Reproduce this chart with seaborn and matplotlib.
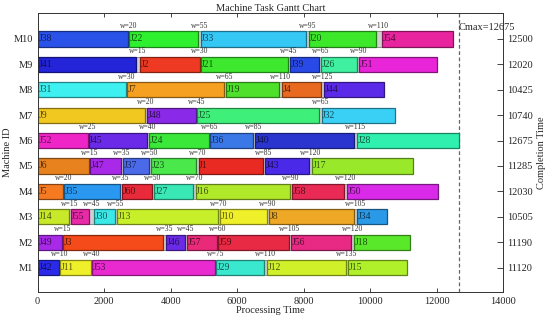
import numpy as np
import pandas as pd
import matplotlib
matplotlib.use("Agg")
import matplotlib.pyplot as plt
import matplotlib.colors as mcolors
import seaborn as sns

# Machines (bottom to top) and their completion times
machine_names = ["M1", "M2", "M3", "M4", "M5", "M6", "M7", "M8", "M9", "M10"]
completion_times = [11120, 11190, 10505, 12030, 11285, 12675, 10740, 10425, 12020, 12500]
CMAX = 12675

# Tasks, machine by machine
task_machine = (["M1"] * 6 + ["M2"] * 7 + ["M3"] * 7 + ["M4"] * 7 + ["M5"] * 7
                + ["M6"] * 6 + ["M7"] * 4 + ["M8"] * 5 + ["M9"] * 6 + ["M10"] * 5)
task_job = ["J42", "J11", "J53", "J29", "J12", "J15",
            "J49", "J3", "J46", "J57", "J59", "J56", "J18",
            "J14", "J55", "J30", "J13", "J10", "J8", "J34",
            "J5", "J35", "J60", "J27", "J16", "J58", "J50",
            "J6", "J47", "J37", "J23", "J1", "J43", "J17",
            "J52", "J45", "J24", "J36", "J40", "J28",
            "J9", "J48", "J25", "J32",
            "J31", "J7", "J19", "J4", "J44",
            "J41", "J2", "J21", "J39", "J26", "J51",
            "J38", "J22", "J33", "J20", "J54"]
task_start = [0, 670, 1640, 5380, 6900, 9340,
              0, 760, 3850, 4500, 5440, 7630, 9530,
              0, 990, 1690, 2380, 5480, 6960, 9610,
              0, 790, 2530, 3490, 4750, 7660, 9310,
              0, 1570, 2560, 3400, 4840, 6850, 8260,
              0, 1530, 3340, 5190, 6550, 9610,
              0, 3280, 4790, 8540,
              0, 2700, 5660, 7350, 8620,
              0, 3070, 4900, 7580, 8530, 9680,
              0, 2750, 4900, 8150, 10350]
task_end = [650, 1590, 5350, 6820, 9270, 11120,
            740, 3770, 4420, 5390, 7550, 9440, 11190,
            950, 1540, 2320, 5420, 6890, 9520, 10505,
            770, 2490, 3440, 4670, 7590, 9220, 12030,
            1550, 2520, 3340, 4770, 6770, 8150, 11285,
            1500, 3300, 5150, 6470, 9520, 12675,
            3240, 4750, 8470, 10740,
            2650, 5620, 7270, 8520, 10425,
            2970, 4870, 7520, 8470, 9620, 12020,
            2720, 4820, 8070, 10170, 12500]
task_color = ["#2a2ae8", "#f0f02a", "#e82ad0", "#3ae8d0", "#d0f02a", "#b0f02a",
              "#a82ae8", "#f54a1a", "#6a2ae8", "#e82a78", "#e82a45", "#e82a85", "#5ae82a",
              "#c8e82a", "#e82aa8", "#3ae8e8", "#c8f02a", "#f0f02a", "#eea825", "#2a9ae8",
              "#f57a22", "#2a98f0", "#e82a3a", "#3ae8b5", "#b0e82a", "#e82a55", "#d82ae8",
              "#e8821e", "#a82ae8", "#4a6aea", "#4ae84a", "#e82a22", "#4a2ae8", "#9ae82a",
              "#f025c8", "#6a2ae8", "#3ae83a", "#3a78e8", "#2a35d0", "#30f0b0",
              "#f0c820", "#8a2ae8", "#3ef07a", "#3ad0f5",
              "#3ef0f0", "#f5a020", "#4ee02a", "#e86a20", "#5a2ae8",
              "#2424d8", "#ee3a22", "#3ee82e", "#2a4ae8", "#3ef0a0", "#e825d8",
              "#2a52e8", "#2ff02f", "#35c8f5", "#3de82a", "#e8259e"]

# Waiting labels between consecutive tasks, machine by machine
wait_values = [10, 40, 75, 110, 135,
               15, 35, 45, 60, 105, 120,
               15, 45, 55, 70, 90, 105,
               20, 35, 50, 70, 90, 120,
               15, 35, 50, 70, 85, 120,
               25, 40, 65, 85, 115,
               20, 45, 65,
               30, 65, 110, 125,
               15, 30, 45, 65, 90,
               20, 55, 95, 110]

df = pd.DataFrame({"machine": task_machine, "job": task_job, "start": task_start,
                   "end": task_end, "color": task_color})

sns.set_style("ticks")
plt.rcParams["font.family"] = ["Liberation Serif", "DejaVu Serif"]
plt.rcParams["font.size"] = 7.5

fig = plt.figure(figsize=(5.5, 3.24), dpi=100)
ax = fig.add_axes([0.0685, 0.0997, 0.846, 0.8593])

bar_h = 0.6
w_iter = iter(wait_values)
for i, m in enumerate(machine_names):
    y = i + 1
    sub = df[df["machine"] == m].reset_index(drop=True)
    for _, r in sub.iterrows():
        c = np.array(mcolors.to_rgb(r["color"]))
        ax.barh(y, r["end"] - r["start"], left=r["start"], height=bar_h,
                color=c, edgecolor=c * 0.55, linewidth=0.9, zorder=3)
        ax.text(r["start"] + 20, y, r["job"], ha="left", va="center",
                fontsize=7, color=c * 0.35, zorder=4)
    # gaps between tasks
    for k in range(len(sub) - 1):
        g0, g1 = sub.loc[k, "end"], sub.loc[k + 1, "start"]
        ax.barh(y, g1 - g0, left=g0, height=bar_h, color="#d0d0d0",
                edgecolor="#808080", linewidth=0.6, zorder=2.8)
        ax.text((g0 + g1) / 2, y + 0.52, f"w={next(w_iter)}", ha="center",
                va="center", fontsize=5.5, color="#333333", zorder=4)

ax.axvline(CMAX, color="#666666", linestyle=(0, (3, 2)), linewidth=0.9, zorder=1)
ax.text(CMAX, 10.47, f"Cmax={CMAX}", ha="left", va="center", fontsize=7.5)

ax.set_xlim(0, 14000)
ax.set_ylim(0.05, 11.01)
ax.set_xticks(np.arange(0, 14001, 2000))
ax.set_yticks(range(1, 11))
ax.set_yticklabels(machine_names)
ax.tick_params(axis="x", direction="in", length=3, top=True, labelsize=7.5, width=0.6)
ax.tick_params(axis="y", length=0, pad=3.5, labelsize=7.5)
ax.set_xlabel("Processing Time", fontsize=7.5, labelpad=0)
ax.set_ylabel("Machine ID", fontsize=7.5, labelpad=1)
ax.set_title("Machine Task Gantt Chart", fontsize=7.5, pad=2)
for s in ax.spines.values():
    s.set_linewidth(0.6)
    s.set_color("#333333")

ax2 = ax.twinx()
ax2.set_ylim(ax.get_ylim())
ax2.set_yticks(range(1, 11))
ax2.set_yticklabels([str(v) for v in completion_times])
ax2.tick_params(axis="y", direction="in", length=4, width=0.6, pad=3, labelsize=7.5)
ax2.set_ylabel("Completion Time", fontsize=7.5, labelpad=3)
for s in ax2.spines.values():
    s.set_linewidth(0.6)
    s.set_color("#333333")

fig.savefig("out.png", dpi=100)
